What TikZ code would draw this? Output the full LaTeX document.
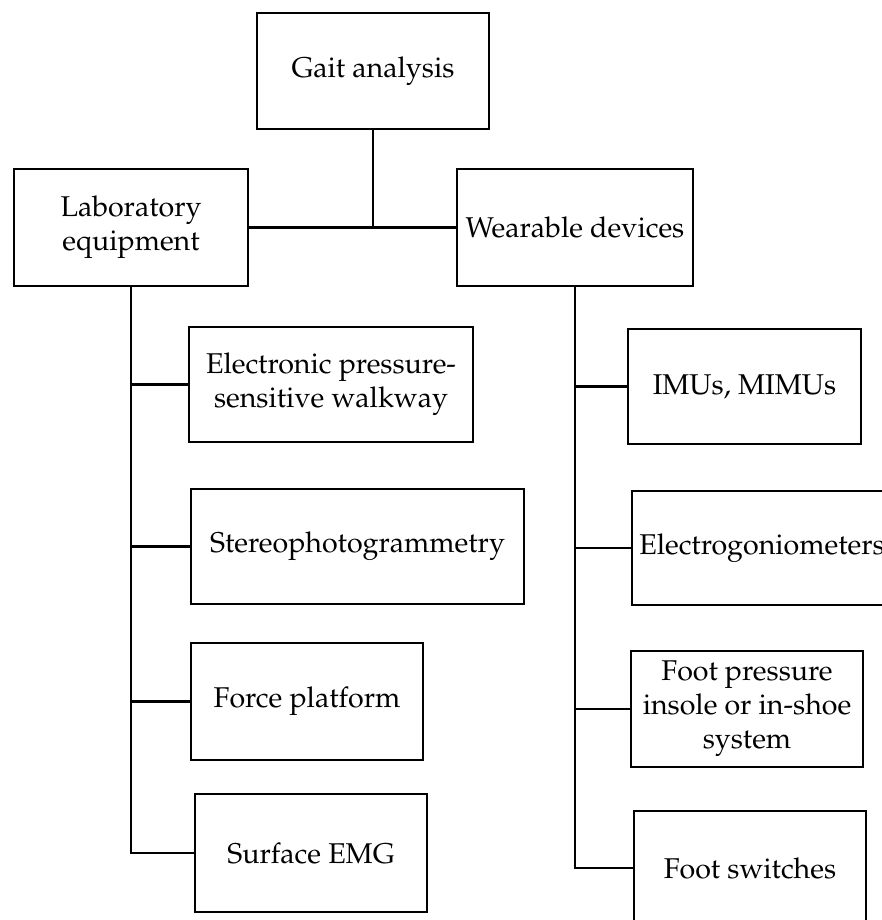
\documentclass[tikz,border=0pt]{standalone}
\usepackage[T1]{fontenc}
\renewcommand{\rmdefault}{ppl}
\begin{document}
\begin{tikzpicture}[x=1pt,y=-1pt,
  box/.style={draw=black,line width=2.8pt,rectangle,inner sep=0pt,align=center,
    font=\fontsize{28.6}{34}\selectfont},
  conn/.style={draw=black,line width=2.8pt}]
\clip (0,0) rectangle (882,920);
\fill[white] (0,0) rectangle (882,920);
\node[box,minimum width=232pt,minimum height=116pt] (gait) at (373,71) {Gait analysis};
\node[box,minimum width=234pt,minimum height=117pt] (lab) at (131,227.5) {Laboratory\\equipment};
\node[box,minimum width=236pt,minimum height=117pt] (wear) at (575,227.5) {Wearable devices};
\node[box,minimum width=284pt,minimum height=115pt] (walk) at (331,384.5) {Electronic pressure-\\sensitive walkway};
\node[box,minimum width=333pt,minimum height=115pt] (stereo) at (357.5,546.5) {Stereophotogrammetry};
\node[box,minimum width=232pt,minimum height=117pt] (force) at (307,701.5) {Force platform};
\node[box,minimum width=232pt,minimum height=118pt] (emg) at (311,853) {Surface EMG};
\node[box,minimum width=233pt,minimum height=115pt] (imu) at (744.5,386.5) {IMUs, MIMUs};
\node[box,minimum width=260pt,minimum height=114pt] (gonio) at (762,548) {Electrogoniometers};
\node[box,minimum width=232pt,minimum height=116pt] (insole) at (747,709) {Foot pressure\\insole or in-shoe\\system};
\node[box,minimum width=232pt,minimum height=114pt] (switch) at (750,868) {Foot switches};
\coordinate (junc) at (gait.south |- lab.east);
\draw[conn] (gait.south) -- (junc);
\draw[conn] (lab.east) -- (wear.west);
\draw[conn] (lab.south) |- (walk.west);
\draw[conn] (lab.south) |- (stereo.west);
\draw[conn] (lab.south) |- (force.west);
\draw[conn] (lab.south) |- (emg.west);
\draw[conn] (wear.south) |- (imu.west);
\draw[conn] (wear.south) |- (gonio.west);
\draw[conn] (wear.south) |- (insole.west);
\draw[conn] (wear.south) |- (switch.west);
\end{tikzpicture}
\end{document}
